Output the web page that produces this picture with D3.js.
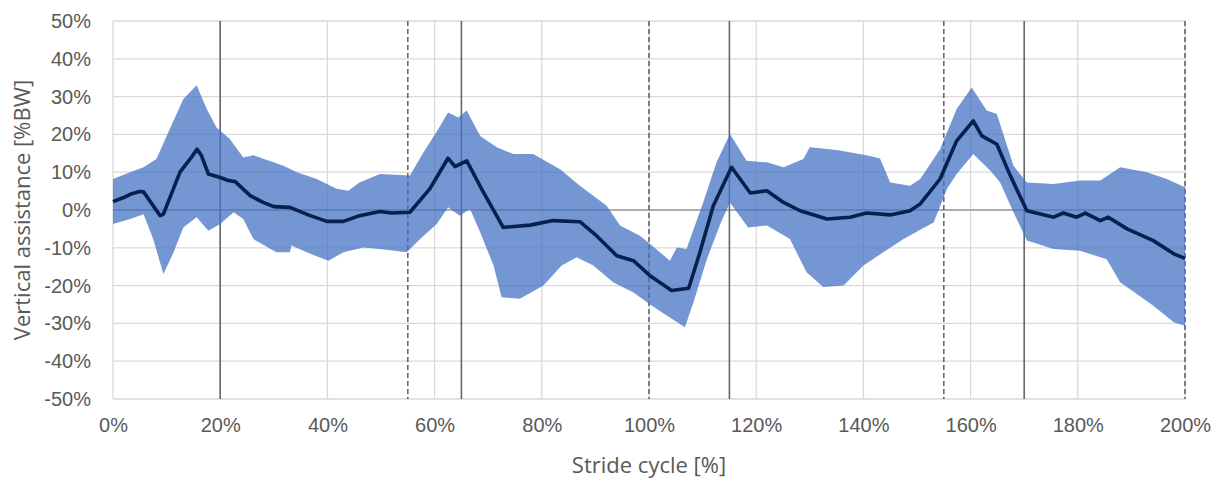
<!DOCTYPE html>
<html>
<head>
<meta charset="utf-8">
<script src="https://cdn.jsdelivr.net/npm/d3@7"></script>
<style>
  body { margin: 0; background: #fff; }
  svg { display: block; font-family: "Open Sans", sans-serif; }
  .tick text { fill: #595959; font-size: 20px; }
  .axis-label { fill: #595959; font-size: 22px; }
</style>
</head>
<body>
<svg id="chart" width="1222" height="481" viewBox="0 0 1222 481"></svg>
<script>
// stride cycle [%] vs vertical assistance [%BW]
const meanPts = [
  [0, 2.2], [2, 3.3], [3.5, 4.3], [5, 4.9], [5.7, 4.8], [8.8, -1.5], [9.4, -1.1],
  [12.5, 10], [14.4, 13.5], [15.7, 16.1], [16.5, 14.4], [17.8, 9.5], [20, 8.6],
  [21.5, 7.8], [22.8, 7.5], [25.6, 3.8], [28, 2], [30, 0.9], [33, 0.7], [36.8, -1.5],
  [39.9, -3.0], [43, -3.0], [46, -1.5], [49.8, -0.4], [52, -0.8], [55.4, -0.6],
  [59.1, 5.6], [62.5, 13.7], [63.8, 11.5], [66, 13], [69.1, 4.7], [72.8, -4.6],
  [77.8, -4.0], [82.1, -2.8], [87.1, -3.1], [90.2, -6.8], [94, -12.1], [97.1, -13.4],
  [100.2, -17.4], [104.2, -21.3], [107.4, -20.7], [109.5, -11.2], [112, 1.1],
  [115.4, 11.3], [118.9, 4.5], [122, 5.1], [125.1, 2.0], [128.2, -0.2], [133.2, -2.4],
  [137.5, -1.9], [140.6, -0.8], [145, -1.3], [148.7, -0.2], [150.6, 1.6], [154.3, 8.2],
  [157.4, 18.3], [160.5, 23.6], [162.1, 19.6], [164.9, 17.4], [167.4, 9.1],
  [170.5, -0.2], [175.5, -1.9], [177.3, -0.8], [179.8, -1.9], [181.4, -0.8],
  [184.2, -2.8], [185.7, -1.9], [189.2, -5.0], [194.1, -8.1], [197.9, -11.6], [200, -12.8]
];

const upperPts = [
  [0, 8.2], [3.2, 10], [5.7, 11.3], [8.1, 13.5], [10.3, 20.5], [13.1, 29.3], [15.6, 33],
  [17.5, 26.7], [19.3, 21.8], [21.8, 18.8], [24.3, 13.9], [26.2, 14.5], [31.8, 11.7],
  [34.3, 10], [38, 8.2], [41.7, 5.6], [43.9, 5.1], [46, 7.3], [49.8, 9.5], [55.4, 9.1],
  [57.9, 15.2], [60.7, 21.4], [62.5, 25.8], [64.4, 24.5], [66, 26.3], [68.5, 19.6],
  [71.6, 16.6], [74.7, 14.8], [78.4, 14.8], [83.4, 10.8], [87.1, 6.4], [92.1, 1.1],
  [94.6, -4.1], [98.3, -6.8], [100.2, -9], [103.9, -13.4], [105.2, -9.9], [107, -10.3],
  [110.1, 2.0], [112.6, 12.6], [115.1, 20.1], [118.2, 13], [122, 12.6], [125.1, 11.3],
  [128.8, 13.5], [130, 16.6], [135, 15.9], [140.6, 14.5], [143.1, 13.6], [145, 7.3],
  [148.7, 6.4], [150.6, 8.2], [154.3, 16.1], [157.4, 26.7], [160.2, 32.4], [163, 26.3],
  [164.9, 25.4], [168, 11.7], [170.5, 7.3], [175.5, 6.9], [180.4, 7.8], [184.2, 7.8],
  [187.9, 11.3], [192.9, 10], [196.6, 8.2], [200, 6.0]
];

const lowerPts = [
  [0, -3.7], [3.2, -2.4], [5.7, -1.1], [7.5, -7.7], [9.4, -16.9], [11.3, -11.2],
  [13.1, -4.6], [15.6, -1.9], [17.8, -5.5], [20, -3.7], [22.5, -0.6], [24.3, -2.4],
  [26.2, -7.7], [30.5, -11.2], [33, -11.2], [33.3, -9.4], [36.8, -11.6], [40.2, -13.4],
  [43, -11.2], [46.7, -9.9], [49.8, -10.3], [54.8, -11.2], [57.3, -7.7], [60.4, -3.7],
  [62.5, 0.7], [64.7, -1.5], [66.6, 0.3], [68.5, -5.9], [71, -14.7], [72.5, -23.1],
  [75.9, -23.5], [80.3, -20], [83.7, -14.7], [86.5, -12.5], [89.6, -14.7], [93.3, -19.1],
  [97.1, -21.8], [100.2, -25], [103.3, -27.9], [106.7, -31], [108.3, -24.4],
  [110.8, -13], [113.3, -3.7], [115.1, 2.0], [118.5, -4.6], [122, -4.1], [126.3, -7.7],
  [129.4, -16.5], [132.5, -20.4], [136.3, -20], [140, -14.7], [143.7, -11.2],
  [147.5, -7.7], [150.6, -5.2], [153.1, -3.3], [155.6, 5.6], [157.4, 9.5], [160.5, 14.8],
  [163.7, 10.4], [165.5, 7.3], [168, -0.6], [170.5, -8.1], [175.5, -10.3], [180.4, -10.8],
  [185.4, -13], [187.9, -19.1], [194.1, -25.3], [197.9, -29.7], [200, -30.6]
];

const xTicks = d3.range(0, 201, 20);
const yTicks = d3.range(-50, 51, 10);
const solidMarks = [20, 65, 115, 170];
const dashedMarks = [55, 100, 155, 200];

/* ── layout ─────────────────────────────────────────────── */
const svg = d3.select("#chart");
const m = { top: 21, right: 37, bottom: 82, left: 113 };
const W = 1222 - m.left - m.right;
const H = 481 - m.top - m.bottom;

const g = svg.append("g").attr("transform", `translate(${m.left},${m.top})`);

const x = d3.scaleLinear().domain([0, 200]).range([0, W]);
const y = d3.scaleLinear().domain([-50, 50]).range([H, 0]);

// grid
g.append("g")
  .selectAll("line.hgrid")
  .data(yTicks)
  .join("line")
  .attr("x1", 0)
  .attr("x2", W)
  .attr("y1", (d) => y(d))
  .attr("y2", (d) => y(d))
  .attr("stroke", "#d9d9d9")
  .attr("stroke-width", 1.3);

g.append("g")
  .selectAll("line.vgrid")
  .data(xTicks)
  .join("line")
  .attr("x1", (d) => x(d))
  .attr("x2", (d) => x(d))
  .attr("y1", 0)
  .attr("y2", H)
  .attr("stroke", "#d9d9d9")
  .attr("stroke-width", 1.3);

// zero line
g.append("line")
  .attr("x1", 0)
  .attr("x2", W)
  .attr("y1", y(0))
  .attr("y2", y(0))
  .attr("stroke", "#adadad")
  .attr("stroke-width", 2);

// phase markers
g.append("g")
  .selectAll("line")
  .data(solidMarks)
  .join("line")
  .attr("x1", (d) => x(d))
  .attr("x2", (d) => x(d))
  .attr("y1", 0)
  .attr("y2", H)
  .attr("stroke", "#666")
  .attr("stroke-width", 1.6);

g.append("g")
  .selectAll("line")
  .data(dashedMarks)
  .join("line")
  .attr("x1", (d) => x(d))
  .attr("x2", (d) => x(d))
  .attr("y1", 0)
  .attr("y2", H)
  .attr("stroke", "#666")
  .attr("stroke-width", 1.6)
  .attr("stroke-dasharray", "5,3");

// variability band
const band = upperPts.concat(lowerPts.slice().reverse());
g.append("path")
  .datum(band)
  .attr("d", d3.line().x((d) => x(d[0])).y((d) => y(d[1])))
  .attr("fill", "#4472c4")
  .attr("fill-opacity", 0.74);

// mean
g.append("path")
  .datum(meanPts)
  .attr("d", d3.line().x((d) => x(d[0])).y((d) => y(d[1])))
  .attr("fill", "none")
  .attr("stroke", "#08204f")
  .attr("stroke-width", 3.6)
  .attr("stroke-linejoin", "round");

// axes
const yAxis = g.append("g")
  .call(d3.axisLeft(y).tickValues(yTicks).tickSize(0).tickPadding(22).tickFormat((d) => d + "%"));
yAxis.select(".domain").remove();

const xAxis = g.append("g")
  .attr("transform", `translate(0,${H})`)
  .call(d3.axisBottom(x).tickValues(xTicks).tickSize(0).tickPadding(19).tickFormat((d) => d + "%"));
xAxis.select(".domain").remove();
yAxis.selectAll("text").attr("font-family", null);
xAxis.selectAll("text").attr("font-family", null);

// axis titles
svg.append("text")
  .attr("class", "axis-label")
  .attr("x", m.left + W / 2)
  .attr("y", 473)
  .attr("text-anchor", "middle")
  .text("Stride cycle [%]");

svg.append("text")
  .attr("class", "axis-label")
  .attr("transform", "rotate(-90)")
  .attr("x", -(m.top + H / 2))
  .attr("y", 30)
  .attr("text-anchor", "middle")
  .text("Vertical assistance [%BW]");
</script>
</body>
</html>
